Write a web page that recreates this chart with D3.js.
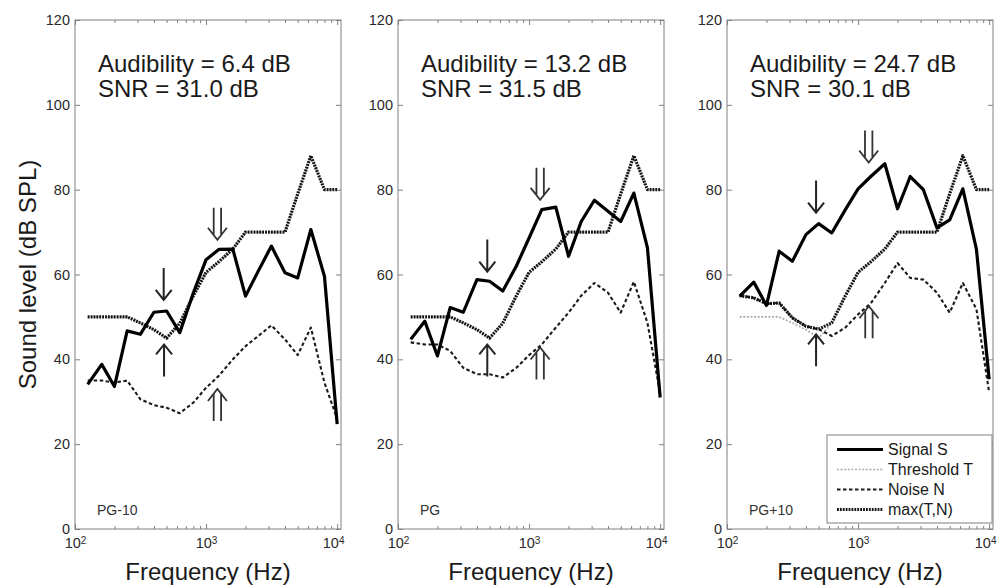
<!DOCTYPE html>
<html>
<head>
<meta charset="utf-8">
<script src="https://cdn.jsdelivr.net/npm/d3@7"></script>
<style>
  body { margin: 0; background: #fff; }
  svg { font-family: Arial, "Liberation Sans", Helvetica, sans-serif; }
</style>
</head>
<body>
<svg id="chart" width="999" height="587"></svg>
<script>
// 1/3-octave band centres (Hz)
const freqs = [125, 160, 200, 250, 315, 400, 500, 630, 800, 1000, 1250, 1600, 2000, 2500, 3150, 4000, 5000, 6300, 8000, 10000];

// threshold T, same for the three panels
const threshold = [50, 50, 50, 50, 48.6, 47, 45, 48.5, 55, 60.5, 63, 66, 70, 70, 70, 70, 79, 88, 80, 80];

// signal S
const signalPG10 = [34.1, 38.8, 33.6, 46.7, 45.9, 51.1, 51.4, 46.3, 55.7, 63.5, 65.9, 66, 54.9, 60.8, 66.7, 60.4, 59.2, 70.6, 59.6, 24.7];
const signalPG = [44.7, 49, 40.8, 52.2, 51.1, 58.8, 58.4, 56.1, 62, 68.6, 75.3, 75.9, 64.3, 72.5, 77.5, 74.9, 72.5, 79.2, 66.3, 31];
const signalPG10p = [54.9, 58.2, 52.7, 65.5, 63.1, 69.4, 72, 69.8, 75.3, 80.2, 83.1, 86.1, 75.5, 83.1, 80, 71, 72.9, 80.2, 65.9, 35.3];

// noise N
const noisePG10 = [35, 35, 34.5, 35, 30.6, 29.2, 28.6, 27.3, 29.8, 33.3, 36.1, 40, 43.1, 45.5, 48, 44.7, 41, 47.5, 34.5, 26];
const noisePG = [44, 43.5, 43.5, 42, 38, 36.5, 36.5, 35.7, 38, 41, 43.5, 47.5, 51, 55, 58, 55.7, 51, 58.3, 48.6, 32];
const noisePG10p = [55, 54.5, 53.1, 53.3, 49.8, 47.8, 47.1, 45.5, 47.5, 50.6, 53.2, 58, 62.7, 59.2, 58.8, 55.7, 51, 58, 51.8, 32.2];

// max(T,N)
const maxPG10 = [50, 50, 50, 50, 48.6, 47, 45, 48.5, 55, 60.5, 63, 66, 70, 70, 70, 70, 79, 88, 80, 80];
const maxPG = [50, 50, 50, 50, 48.6, 47, 45, 48.5, 55, 60.5, 63, 66, 70, 70, 70, 70, 79, 88, 80, 80];
const maxPG10p = [55, 54.5, 53.1, 53.3, 49.8, 47.8, 47.1, 48.6, 55, 60.5, 63, 66, 70, 70, 70, 70, 79, 88, 80, 80];

const panelNames = ["PG-10", "PG", "PG+10"];
const audibility = ["6.4", "13.2", "24.7"];
const snr = ["31.0", "31.5", "30.1"];

const yTicks = [0, 20, 40, 60, 80, 100, 120];
const xTicks = [100, 1000, 10000];
const xTickExp = ["2", "3", "4"];

// arrow annotations: [frequency, tip level dB]
const arrowSingleDown = [[475, 54], [480, 60.7], [478, 74.6]];
const arrowSingleUp = [[478, 43.5], [480, 43.5], [478, 45.9]];
const arrowDoubleDown = [[1220, 68.2], [1215, 77.6], [1205, 86.4]];
const arrowDoubleUp = [[1220, 33], [1215, 42.8], [1210, 52.5]];

const legendLabels = ["Signal S", "Threshold T", "Noise N", "max(T,N)"];

const signals = [signalPG10, signalPG, signalPG10p];
const noises = [noisePG10, noisePG, noisePG10p];
const maxes = [maxPG10, maxPG, maxPG10p];

const styles = {
  signal: { stroke: "#000", width: 3.2, dash: null },
  threshold: { stroke: "#aaa", width: 1.6, dash: "2,1.6" },
  noise: { stroke: "#1a1a1a", width: 2.1, dash: "3.5,2.5" },
  max: { stroke: "#111", width: 3.2, dash: "1.8,1.1" }
};

const svg = d3.select("#chart");
const lefts = [75, 398, 727];
const marginTop = 20, W = 266, H = 509;
const axisColor = "#808080";

const x = d3.scaleLog().domain([100, 10700]).range([0, W]);
const y = d3.scaleLinear().domain([0, 120]).range([H, 0]);
const minorTicks = x.ticks().filter(d => xTicks.indexOf(d) < 0);

function styleAxis(sel) {
  sel.select(".domain").remove();
  sel.selectAll("line").attr("stroke", axisColor);
  sel.selectAll("text").attr("fill", "#2a2a2a").attr("font-size", "14.5px");
}

function arrowSingle(g, cx, tipY, dir) {
  const len = 32, hw = 8, hl = 10;
  const tailY = tipY - dir * len;
  g.append("path")
    .attr("d", `M${cx},${tailY}L${cx},${tipY}M${cx - hw},${tipY - dir * hl}L${cx},${tipY}L${cx + hw},${tipY - dir * hl}`)
    .attr("fill", "none").attr("stroke", "#222").attr("stroke-width", 2);
}

function arrowDouble(g, cx, tipY, dir) {
  const len = 32, hw = 9.5, hl = 12, off = 3.7;
  const tailY = tipY - dir * len;
  const endY = tipY - dir * hl * (off / hw);
  g.append("path")
    .attr("d", `M${cx - off},${tailY}L${cx - off},${endY}M${cx + off},${tailY}L${cx + off},${endY}` +
      `M${cx - hw},${tipY - dir * hl}L${cx},${tipY}L${cx + hw},${tipY - dir * hl}`)
    .attr("fill", "none").attr("stroke", "#333").attr("stroke-width", 1.8);
}

const line = d3.line().x((d, i) => x(freqs[i])).y(d => y(d));

lefts.forEach((left, p) => {
  const g = svg.append("g").attr("transform", `translate(${left},${marginTop})`);

  g.append("rect").attr("width", W).attr("height", H)
    .attr("fill", "#fff").attr("stroke", axisColor).attr("stroke-width", 1);

  // axes, ticks pointing inwards
  g.append("g").call(d3.axisLeft(y).tickValues(yTicks).tickSizeInner(-5).tickSizeOuter(0).tickPadding(5)).call(styleAxis);
  g.append("g").attr("transform", `translate(${W},0)`)
    .call(d3.axisRight(y).tickValues(yTicks).tickSizeInner(-5).tickSizeOuter(0).tickFormat("")).call(styleAxis);

  const bottom = g.append("g").attr("transform", `translate(0,${H})`)
    .call(d3.axisBottom(x).tickValues(xTicks).tickSizeInner(-5).tickSizeOuter(0).tickPadding(9).tickFormat(() => "10"))
    .call(styleAxis);
  bottom.selectAll("text").each(function (d, i) {
    d3.select(this).append("tspan").attr("dy", "-0.45em").attr("font-size", "10px").text(xTickExp[i]);
  });
  // last label sits at the panel edge, pull it in a little
  bottom.selectAll("text").filter((d, i) => i === xTicks.length - 1).attr("dx", -4);
  g.append("g").attr("transform", `translate(0,${H})`)
    .call(d3.axisBottom(x).tickValues(minorTicks).tickSizeInner(-3).tickSizeOuter(0).tickFormat("")).call(styleAxis);
  g.append("g").call(d3.axisTop(x).tickValues(xTicks).tickSizeInner(-5).tickSizeOuter(0).tickFormat("")).call(styleAxis);
  g.append("g").call(d3.axisTop(x).tickValues(minorTicks).tickSizeInner(-3).tickSizeOuter(0).tickFormat("")).call(styleAxis);

  // curves
  const series = [
    [threshold, styles.threshold],
    [noises[p], styles.noise],
    [maxes[p], styles.max],
    [signals[p], styles.signal]
  ];
  series.forEach(([vals, st]) => {
    g.append("path").datum(vals).attr("d", line)
      .attr("fill", "none").attr("stroke", st.stroke).attr("stroke-width", st.width)
      .attr("stroke-dasharray", st.dash).attr("stroke-linejoin", "round");
  });

  // arrows
  arrowSingle(g, x(arrowSingleDown[p][0]), y(arrowSingleDown[p][1]), 1);
  arrowSingle(g, x(arrowSingleUp[p][0]), y(arrowSingleUp[p][1]), -1);
  arrowDouble(g, x(arrowDoubleDown[p][0]), y(arrowDoubleDown[p][1]), 1);
  arrowDouble(g, x(arrowDoubleUp[p][0]), y(arrowDoubleUp[p][1]), -1);

  // texts
  g.append("text").attr("x", 23).attr("y", 52).attr("font-size", "24px").attr("fill", "#1a1a1a")
    .text(`Audibility = ${audibility[p]} dB`);
  g.append("text").attr("x", 23).attr("y", 77).attr("font-size", "24px").attr("fill", "#1a1a1a")
    .text(`SNR = ${snr[p]} dB`);
  g.append("text").attr("x", 22).attr("y", 495).attr("font-size", "14px").attr("fill", "#333")
    .text(panelNames[p]);

  g.append("text").attr("x", W / 2).attr("y", 560).attr("text-anchor", "middle")
    .attr("font-size", "24px").attr("fill", "#1a1a1a").text("Frequency (Hz)");

  // legend in last panel
  if (p === 2) {
    const lg = g.append("g").attr("transform", `translate(${W - 166},${415})`);
    lg.append("rect").attr("width", 165).attr("height", 88)
      .attr("fill", "#fff").attr("stroke", axisColor).attr("stroke-width", 1);
    const legendStyles = [styles.signal, styles.threshold, styles.noise, styles.max];
    legendLabels.forEach((lab, i) => {
      const yy = 20 + i * 20;
      const st = legendStyles[i];
      lg.append("line").attr("x1", 10).attr("x2", 56).attr("y1", yy - 5.5).attr("y2", yy - 5.5)
        .attr("stroke", st.stroke).attr("stroke-width", st.width).attr("stroke-dasharray", st.dash);
      lg.append("text").attr("x", 61).attr("y", yy).attr("font-size", "16px").attr("fill", "#1a1a1a").text(lab);
    });
  }
});

svg.append("text").attr("transform", `translate(36,${marginTop + H / 2}) rotate(-90)`)
  .attr("text-anchor", "middle").attr("font-size", "24px").attr("fill", "#1a1a1a")
  .text("Sound level (dB SPL)");
</script>
</body>
</html>
